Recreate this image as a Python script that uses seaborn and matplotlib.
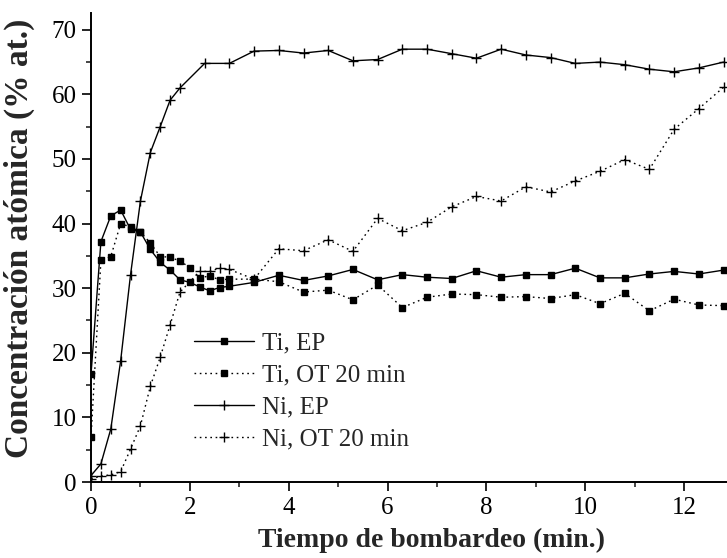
import numpy as np
import pandas as pd
import matplotlib
matplotlib.use("Agg")
import matplotlib.pyplot as plt
import seaborn as sns

# Sputtering time (min) and atomic concentration (% at.) for each series
t_early = [0.0, 0.2, 0.4, 0.6, 0.8, 1.0, 1.2, 1.4, 1.6, 1.8]
t_late = [2.3, 2.8, 3.3, 3.8, 4.3, 4.8, 5.3, 5.8, 6.3, 6.8, 7.3, 7.8, 8.3,
          8.8, 9.3, 9.8, 10.3, 10.8, 11.3, 11.8, 12.3, 12.8]

t_ti = [0.0, 0.2, 0.4, 0.6, 0.8, 1.0, 1.2, 1.4, 1.6, 1.8, 2.0, 2.2, 2.4, 2.6,
        2.8, 3.3, 3.8, 4.3, 4.8, 5.3, 5.8, 6.3, 6.8, 7.3, 7.8, 8.3, 8.8, 9.3,
        9.8, 10.3, 10.8, 11.3, 11.8, 12.3, 12.8]

ti_ep = [16.7, 37.2, 41.2, 42.1, 39.1, 38.7, 36.0, 34.0, 32.8, 31.3, 30.9, 30.2,
         29.6, 30.1, 30.3, 30.9, 32.0, 31.2, 31.9, 32.9, 31.3, 32.1, 31.7, 31.5,
         32.7, 31.7, 32.1, 32.1, 33.1, 31.6, 31.6, 32.2, 32.6, 32.2, 32.8]

ti_ot = [6.9, 34.3, 34.9, 40.0, 39.5, 38.7, 37.0, 34.9, 34.8, 34.2, 33.2, 31.6,
         31.9, 31.3, 31.4, 31.4, 31.0, 29.4, 29.7, 28.2, 30.5, 27.0, 28.6, 29.1,
         29.0, 28.6, 28.7, 28.4, 29.0, 27.6, 29.2, 26.5, 28.3, 27.4, 27.3]

t_ni_ep = t_early + t_late
ni_ep = [1.0, 2.8, 8.2, 18.8, 32.1, 43.5, 51.0, 55.0, 59.1, 61.0,
         64.8, 64.8, 66.7, 66.8, 66.4, 66.8, 65.2, 65.4, 67.0, 67.0, 66.3,
         65.6, 67.0, 66.1, 65.7, 64.8, 65.0, 64.6, 63.9, 63.5, 64.1, 65.0]

t_ni_ot = [0.0, 0.2, 0.4, 0.6, 0.8, 1.0, 1.2, 1.4, 1.6, 1.8, 2.2, 2.4, 2.6,
           2.8, 3.3, 3.8, 4.3, 4.8, 5.3, 5.8, 6.3, 6.8, 7.3, 7.8, 8.3, 8.8,
           9.3, 9.8, 10.3, 10.8, 11.3, 11.8, 12.3, 12.8]
ni_ot = [0.5, 0.9, 1.1, 1.6, 5.1, 8.7, 14.8, 19.3, 24.3, 29.4, 32.6, 32.6, 33.1,
         32.9, 31.4, 36.1, 35.8, 37.5, 35.7, 40.8, 38.9, 40.2, 42.6, 44.2, 43.5,
         45.7, 44.9, 46.6, 48.1, 49.9, 48.4, 54.6, 57.8, 61.1]

labels = ["Ti, EP", "Ti, OT 20 min", "Ni, EP", "Ni, OT 20 min"]

sns.set_theme(style="ticks")
plt.rcParams["font.family"] = ["Liberation Serif", "DejaVu Serif"]

fig = plt.figure(figsize=(7.27, 5.58), dpi=100)
ax = fig.add_axes([0.1252, 0.1362, 0.8748, 0.8405])

dotted = (0, (1.2, 2.6))
series = [
    (t_ti, ti_ep, "s", "-"),
    (t_ti, ti_ot, "s", dotted),
    (t_ni_ep, ni_ep, "+", "-"),
    (t_ni_ot, ni_ot, "+", dotted),
]
for tx, vals, mk, ls in series:
    df = pd.DataFrame({"t": tx, "c": vals})
    ms = 5.0 if mk == "s" else 7.0
    sns.lineplot(data=df, x="t", y="c", ax=ax, color="black", linewidth=1.0,
                 linestyle=ls, marker=mk, markersize=ms, markeredgewidth=1.0,
                 markerfacecolor="black", markeredgecolor="black",
                 legend=False)

ax.set_xlim(0, 12.87)
ax.set_ylim(0, 72.6)
ax.set_xticks(np.arange(0, 13, 2))
ax.set_xticks(np.arange(0, 13, 1), minor=True)
ax.set_yticks(np.arange(0, 71, 10))
ax.set_yticks(np.arange(0, 71, 5), minor=True)

for side in ["top", "right"]:
    ax.spines[side].set_visible(False)
for side in ["left", "bottom"]:
    ax.spines[side].set_linewidth(1.4)
    ax.spines[side].set_color("black")

ax.tick_params(which="major", direction="out", length=6.5, width=1.2,
               labelsize=18, colors="black", pad=4)
ax.tick_params(which="minor", direction="out", length=3.8, width=1.2)

ax.set_xlabel("Tiempo de bombardeo (min.)", fontsize=20, fontweight="bold")
ax.set_ylabel("Concentración atómica (% at.)", fontsize=24, fontweight="bold")
ax.xaxis.set_label_coords(0.536, -0.097)
ax.yaxis.set_label_coords(-0.088, 0.519)

leg = ax.legend(handles=ax.lines[:4], labels=labels, loc="upper left",
                bbox_to_anchor=(0.135, 0.357), frameon=False,
                fontsize=18, handlelength=2.4, handletextpad=0.3,
                labelspacing=0.38, borderpad=0.2, numpoints=1)

fig.savefig("out.png", dpi=100)
